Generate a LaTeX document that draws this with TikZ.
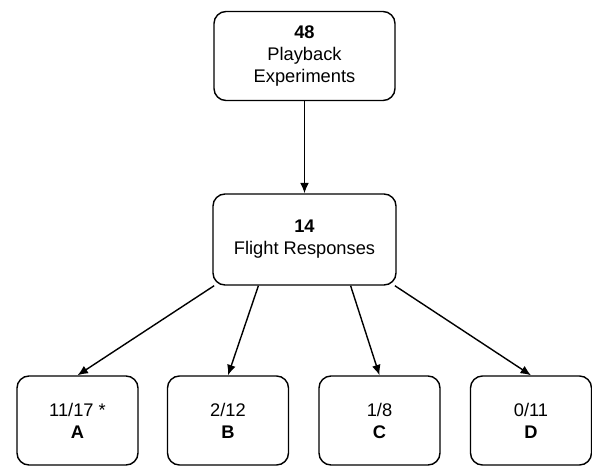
\documentclass[tikz,border=0pt]{standalone}
\usepackage{fontspec}
\setmainfont{Liberation Sans}
\usetikzlibrary{arrows.meta,calc}

\tikzset{
	stepbox/.style={draw, line width=1pt, rounded corners=0.3cm, align=center,
		font=\fontsize{13}{15.6}\selectfont, inner sep=0pt},
	topbox/.style={stepbox, minimum width=4.525cm, minimum height=2.225cm},
	midbox/.style={stepbox, minimum width=4.575cm, minimum height=2.275cm},
	groupbox/.style={stepbox, minimum width=3.025cm, minimum height=2.225cm},
	flow/.style={line width=1pt, -{Latex[length=2.6mm,width=2.2mm]}}
}

\begin{document}
\begin{tikzpicture}
			%%%%% START %%%%%
			
			\useasboundingbox (0, 0) rectangle (14.8, -11.65);
			
			\node[topbox] (playback) at (7.6125, -1.4) {\textbf{48}\\Playback\\Experiments};
			\node[midbox] (flight) at (7.6125, -5.9875) {\textbf{14}\\Flight Responses};
			
			\node[groupbox] (grpA) at (1.9375, -10.5125) {11/17 *\\\textbf{A}};
			\node[groupbox] (grpB) at (5.7, -10.5125) {2/12\\\textbf{B}};
			\node[groupbox] (grpC) at (9.4875, -10.5125) {1/8\\\textbf{C}};
			\node[groupbox] (grpD) at (13.275, -10.5125) {0/11\\\textbf{D}};
			
			\draw[flow] (playback) -- (flight);
			
			\draw[flow] ($(flight.south west)!0.01!(flight.south east)$) -- (grpA.north);
			\draw[flow] ($(flight.south west)!0.25!(flight.south east)$) -- (grpB.north);
			\draw[flow] ($(flight.south west)!0.75!(flight.south east)$) -- (grpC.north);
			\draw[flow] ($(flight.south west)!0.99!(flight.south east)$) -- (grpD.north);
			
			%%%%% END %%%%%
\end{tikzpicture}
\end{document}
